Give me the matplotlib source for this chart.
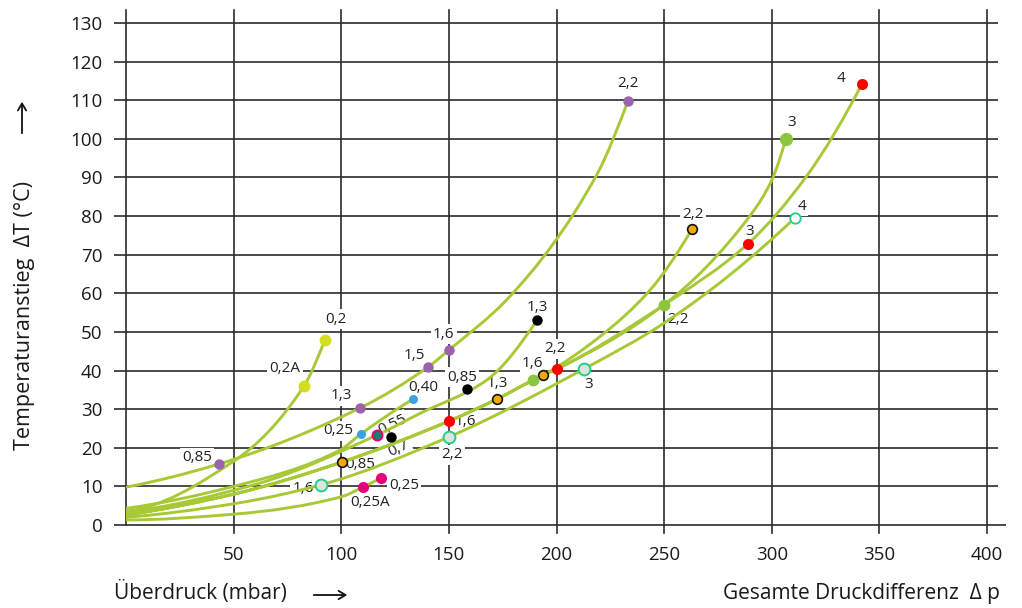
import numpy as np
import matplotlib
matplotlib.use("Agg")
import matplotlib.pyplot as plt
from matplotlib.path import Path
from matplotlib.patches import PathPatch, FancyArrowPatch

plt.rcParams['font.family'] = ['Open Sans', 'DejaVu Sans']

# --- curves ---
purple_x = [0, 43.2, 108.7, 140.3, 150, 176.8, 218.8, 233.2]
purple_y = [9.8, 15.8, 30.3, 40.9, 45.3, 58.3, 90.8, 109.8]
yellow_x = [0, 50, 82.7, 92.4]
yellow_y = [3.6, 16.5, 36.0, 47.9]
blue_x = [0, 50, 99.4, 109.2, 133.3]
blue_y = [4.3, 10.0, 19.4, 23.6, 32.6]
black_x = [0, 60, 116.6, 136.6, 167.5, 190.9]
black_y = [3.4, 10.5, 23.3, 28.9, 37.5, 53.0]
main_x = [0, 50, 100.3, 150, 172.3, 189, 193.7, 200.2]
main_y = [2.6, 8.0, 16.3, 26.9, 32.6, 37.5, 38.8, 40.4]
orange_x = [220.2, 243.4, 262.9]
orange_y = [48.8, 60.8, 76.6]
green_x = [249.9, 289.8, 300, 306.5]
green_y = [57.0, 80.0, 89.3, 99.9]
red_x = [249.9, 288.9, 316, 341.9]
red_y = [57.0, 72.8, 90.2, 114.2]
teal_x = [0, 50, 90.6, 150, 212.7, 250, 310.7]
teal_y = [2.0, 5.5, 10.4, 22.8, 40.4, 52.3, 79.5]
pink_x = [0, 50, 100, 110, 118.4]
pink_y = [1.3, 2.8, 7.3, 9.8, 12.2]

# --- measured points: x, y, label, kind ---
pt_x = [92.4, 82.7, 43.2, 108.7, 140.3, 150.0, 233.2,
        109.2, 133.3, 116.6, 123.1, 158.4, 190.9,
        100.3, 172.3, 193.7, 262.9, 189.0, 249.9, 306.5,
        150.0, 200.2, 288.9, 341.9, 90.6, 150.0, 212.7, 310.7,
        110.0, 118.4]
pt_y = [47.9, 36.0, 15.8, 30.3, 40.9, 45.3, 109.8,
        23.6, 32.6, 23.3, 22.8, 35.2, 53.0,
        16.3, 32.6, 38.8, 76.6, 37.5, 57.0, 99.9,
        26.9, 40.4, 72.8, 114.2, 10.4, 22.8, 40.4, 79.5,
        9.8, 12.2]
pt_label = ["0,2", "0,2A", "0,85", "1,3", "1,5", "1,6", "2,2",
            "0,25", "0,40", "0,55", "0,7", "0,85", "1,3",
            "0,85", "1,3", "", "2,2", "1,6", "2,2", "3",
            "1,6", "2,2", "3", "4", "1,6", "2,2", "3", "4",
            "0,25A", "0,25"]
pt_kind = ["yellow", "yellow", "purple", "purple", "purple", "purple", "purple",
           "blue", "blue", "mix", "black", "black", "black",
           "orange", "orange", "orange", "orange", "green", "green", "green_big",
           "red", "red", "red", "red", "teal", "teal", "teal", "teal_w",
           "pink", "pink"]

# label offsets in pixels and rotation
lab_off = [(11, 21), (-19, 17), (-22, 6), (-19, 12), (-14, 12), (-5, 16), (0, 18),
           (-23, 3), (10, 12), (15, 10), (8, -12), (-5, 12), (0, 13),
           (18, -2), (0, 16), (0, 0), (1, 15), (0, 17), (14, -15), (6, 17),
           (17, 0), (-2, 20), (2, 12), (-21, 6), (-18, -4), (3, -18), (5, -16), (7, 12),
           (7, -15), (23, -8)]
lab_rot = {9: 25, 10: 25}

styles = {
    "yellow": dict(mfc="#d5dd1f", mec="#d5dd1f", ms=8.5, mew=0),
    "purple": dict(mfc="#9b62ad", mec="#9b62ad", ms=7.5, mew=0),
    "blue": dict(mfc="#3aa3e6", mec="#3aa3e6", ms=6.5, mew=0),
    "mix": dict(mfc="#00876a", mec="#e5007d", ms=7, mew=1.6),
    "black": dict(mfc="#000000", mec="#000000", ms=7.5, mew=0),
    "orange": dict(mfc="#f5a800", mec="#111111", ms=7, mew=1.2),
    "green": dict(mfc="#8cc63f", mec="#8cc63f", ms=8.5, mew=0),
    "green_big": dict(mfc="#8cc63f", mec="#8cc63f", ms=9.5, mew=0),
    "red": dict(mfc="#ff0000", mec="#ff0000", ms=8, mew=0),
    "teal": dict(mfc="#e2e2dc", mec="#1fd08a", ms=8.5, mew=1.4),
    "teal_w": dict(mfc="#ffffff", mec="#1fd08a", ms=7.5, mew=1.3),
    "pink": dict(mfc="#e5007d", mec="#e5007d", ms=8, mew=0),
}

line_col = "#a8c936"
grid_col = "#2b2b2b"


def smooth_path(xs, ys):
    # monotone cubic (Fritsch-Carlson) through the points, as Bezier pieces
    x = np.asarray(xs, float)
    y = np.asarray(ys, float)
    n = len(x)
    h = np.diff(x)
    d = np.diff(y) / h
    m = np.zeros(n)
    for k in range(1, n - 1):
        if d[k - 1] * d[k] > 0:
            w1 = 2 * h[k] + h[k - 1]
            w2 = h[k] + 2 * h[k - 1]
            m[k] = (w1 + w2) / (w1 / d[k - 1] + w2 / d[k])
    if n > 2:
        m[0] = ((2 * h[0] + h[1]) * d[0] - h[0] * d[1]) / (h[0] + h[1])
        if m[0] * d[0] <= 0:
            m[0] = 0
        m[-1] = ((2 * h[-1] + h[-2]) * d[-1] - h[-1] * d[-2]) / (h[-1] + h[-2])
        if m[-1] * d[-1] <= 0:
            m[-1] = 0
    else:
        m[:] = d[0]
    verts = [(x[0], y[0])]
    codes = [Path.MOVETO]
    for k in range(n - 1):
        verts += [(x[k] + h[k] / 3, y[k] + m[k] * h[k] / 3),
                  (x[k + 1] - h[k] / 3, y[k + 1] - m[k + 1] * h[k] / 3),
                  (x[k + 1], y[k + 1])]
        codes += [Path.CURVE4] * 3
    return Path(verts, codes)


fig = plt.figure(figsize=(10.22, 6.08), dpi=100)
ax = fig.add_axes([126 / 1022, (608 - 525) / 608, 861 / 1022, 502 / 608])
ax.set_xlim(0, 400)
ax.set_ylim(0, 130)
for s in ax.spines.values():
    s.set_visible(False)

# grid
for y in range(0, 131, 10):
    ax.plot([-5.5, 409 if y == 0 else 405], [y, y], color=grid_col, lw=1.2,
            clip_on=False, zorder=1, solid_capstyle="butt")
for x in range(50, 401, 50):
    ax.plot([x, x], [-2, 133.3], color=grid_col, lw=1.2, clip_on=False, zorder=1)
ax.plot([0, 0], [0, 133.3], color=grid_col, lw=1.2, clip_on=False, zorder=1)

ax.set_xticks(range(50, 401, 50))
ax.set_yticks(range(0, 131, 10))
ax.tick_params(length=0, labelsize=13.5, colors="#1a1a1a")
ax.tick_params(axis="y", pad=17)
ax.tick_params(axis="x", pad=15)

# curves
lines = [
    (purple_x, purple_y),
    (yellow_x, yellow_y),
    (blue_x, blue_y),
    (black_x, black_y),
    (main_x[:-1] + orange_x, main_y[:-1] + orange_y),
    (main_x + green_x, main_y + green_y),
    (main_x + red_x, main_y + red_y),
    (teal_x, teal_y),
    (pink_x, pink_y),
]
for xs, ys in lines:
    ax.add_patch(PathPatch(smooth_path(xs, ys), fill=False, edgecolor=line_col,
                           lw=2.1, zorder=3, capstyle="round"))

# points and labels
for i in range(len(pt_x)):
    ax.plot(pt_x[i], pt_y[i], "o", zorder=5, **styles[pt_kind[i]])
    if pt_label[i]:
        ax.annotate(pt_label[i], (pt_x[i], pt_y[i]), xytext=lab_off[i],
                    textcoords="offset pixels", ha="center", va="center",
                    fontsize=11, color="#222222", rotation=lab_rot.get(i, 0),
                    zorder=2,
                    bbox=dict(boxstyle="square,pad=0.15", fc="white", ec="none"))

# axis titles and arrows
fig.text(25 / 1022, 1 - 316 / 608, "Temperaturanstieg  \u0394T (°C)", rotation=90,
         ha="center", va="center", fontsize=15.5, color="#1a1a1a")
fig.text(114 / 1022, 1 - 593 / 608, "Überdruck (mbar)", ha="left", va="center",
         fontsize=15, color="#1a1a1a")
fig.text(1000 / 1022, 1 - 593 / 608, "Gesamte Druckdifferenz  \u0394 p", ha="right",
         va="center", fontsize=15, color="#1a1a1a")
fig.add_artist(FancyArrowPatch(
    (22 / 1022, 1 - 136 / 608), (22 / 1022, 1 - 99 / 608), transform=fig.transFigure,
    arrowstyle="->,head_length=5,head_width=3", lw=1.3, color="#111111",
    mutation_scale=1))
fig.add_artist(FancyArrowPatch(
    (311 / 1022, 1 - 595 / 608), (350 / 1022, 1 - 595 / 608), transform=fig.transFigure,
    arrowstyle="->,head_length=5,head_width=3", lw=1.3, color="#111111",
    mutation_scale=1))

fig.savefig("out.png", dpi=100)
